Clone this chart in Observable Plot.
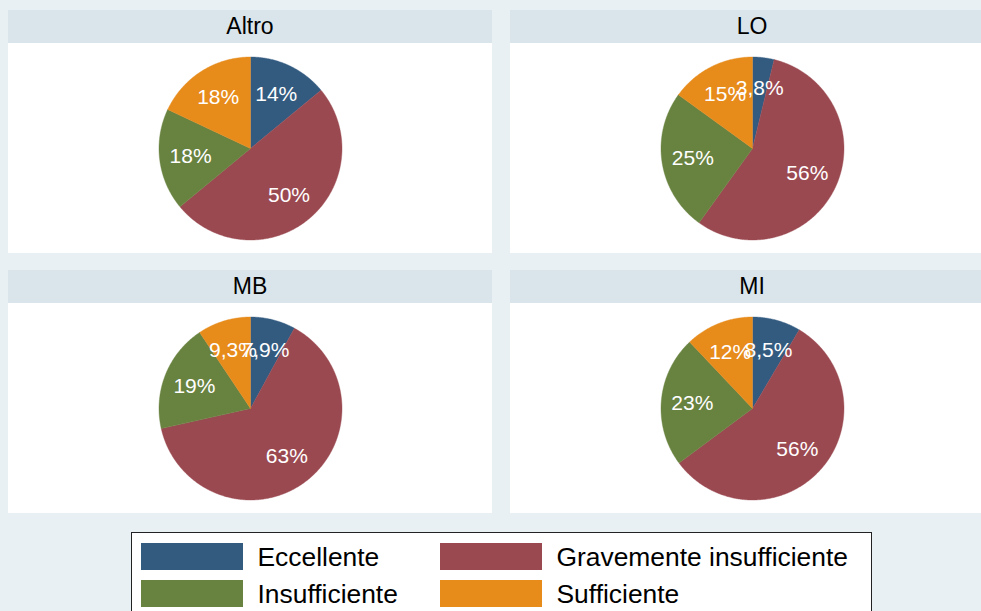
<!DOCTYPE html>
<html>
<head>
<meta charset="utf-8">
<script src="https://cdn.jsdelivr.net/npm/d3@7"></script>
<script src="https://cdn.jsdelivr.net/npm/@observablehq/plot@0.6"></script>
<style>
  html, body { margin: 0; padding: 0; }
  body { width: 981px; height: 611px; overflow: hidden; background: #e8f0f3; position: relative;
         font-family: "Liberation Sans", Arial, Helvetica, sans-serif; }
  .panel { position: absolute; width: 484px; }
  .hdr { height: 33px; background: #d9e5eb; color: #000; font-size: 23px; text-align: center; line-height: 33px; }
  .plot { background: #fff; height: 210px; }
  .plot svg { display: block; }
  #legend { position: absolute; left: 131px; top: 532px; width: 741px; height: 100px; background: #fff;
            border: 1.5px solid #222; box-sizing: border-box; }
  .item { position: absolute; height: 27px; }
  .sw { position: absolute; left: 0; top: 0; width: 102px; height: 27px; }
  .lab { position: absolute; left: 117px; top: 1px; line-height: 27px; font-size: 26.4px; white-space: nowrap; color: #000; }
</style>
</head>
<body>
<script>
// ---- data ----
const categories = ["Eccellente", "Gravemente insufficiente", "Insufficiente", "Sufficiente"];
const colors = ["#335b80", "#9b4951", "#68823f", "#e78b1b"];
const panels = ["Altro", "LO", "MB", "MI"];
const altro = [14, 50, 18, 18];
const lo = [3.8, 56, 25, 15];
const mb = [7.9, 63, 19, 9.3];
const mi = [8.5, 56, 23, 12];
const panelValues = [altro, lo, mb, mi];

// ---- layout ----
const W = 484, H = 210, R = 91.5;
const pos = [[8, 10], [510, 10], [8, 270], [510, 270]];

function fmt(v) {
  const s = v < 10 ? v.toFixed(1) : String(Math.round(v));
  return s.replace(".", ",") + "%";
}

panels.forEach((name, i) => {
  const vals = panelValues[i];
  const rows = categories.map((c, j) => ({cat: c, value: vals[j]}));
  const arcs = d3.pie().sort(null).value(d => d.value)(rows);
  const pts = [];
  const labels = [];
  arcs.forEach(a => {
    const cat = a.data.cat;
    pts.push({cat, x: 0, y: 0});
    const n = Math.max(2, Math.ceil((a.endAngle - a.startAngle) / 0.01));
    for (let k = 0; k <= n; k++) {
      const t = a.startAngle + (a.endAngle - a.startAngle) * k / n;
      pts.push({cat, x: Math.sin(t), y: Math.cos(t)});
    }
    pts.push({cat, x: 0, y: 0});
    const m = (a.startAngle + a.endAngle) / 2;
    labels.push({cat, x: 0.66 * Math.sin(m), y: 0.66 * Math.cos(m), text: fmt(a.data.value)});
  });

  const panel = document.createElement("div");
  panel.className = "panel";
  panel.style.left = pos[i][0] + "px";
  panel.style.top = pos[i][1] + "px";
  const hdr = document.createElement("div");
  hdr.className = "hdr";
  hdr.textContent = name;
  const box = document.createElement("div");
  box.className = "plot";

  const chart = Plot.plot({
    width: W, height: H,
    margin: 0,
    style: {background: "transparent", fontFamily: "Liberation Sans, Arial, sans-serif"},
    x: {domain: [-W / 2 / R, W / 2 / R], axis: null},
    y: {domain: [-H / 2 / R, H / 2 / R], axis: null},
    color: {domain: categories, range: colors},
    marks: [
      Plot.line(pts, {x: "x", y: "y", z: "cat", fill: "cat", stroke: "cat", strokeWidth: 0.4, curve: "linear"}),
      Plot.text(labels, {x: "x", y: "y", text: "text", fill: "white", fontSize: 21})
    ]
  });
  box.appendChild(chart);
  panel.appendChild(hdr);
  panel.appendChild(box);
  document.body.appendChild(panel);
});

// ---- legend ----
const legend = document.createElement("div");
legend.id = "legend";
const legPos = [[8.5, 9.5], [307.5, 9.5], [8.5, 46.5], [307.5, 46.5]];
categories.forEach((c, j) => {
  const it = document.createElement("div");
  it.className = "item";
  it.style.left = legPos[j][0] + "px";
  it.style.top = legPos[j][1] + "px";
  const sw = document.createElement("div");
  sw.className = "sw";
  sw.style.background = colors[j];
  const lab = document.createElement("div");
  lab.className = "lab";
  lab.textContent = c;
  it.appendChild(sw);
  it.appendChild(lab);
  legend.appendChild(it);
});
document.body.appendChild(legend);
</script>
</body>
</html>
